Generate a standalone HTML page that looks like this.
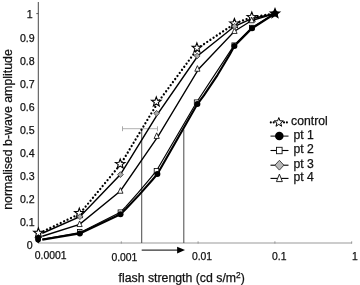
<!DOCTYPE html>
<html><head><meta charset="utf-8"><title>chart</title>
<style>html,body{margin:0;padding:0;background:#fff}svg{display:block}text{stroke:#111;stroke-width:.25px}</style></head>
<body>
<svg width="360" height="285" viewBox="0 0 360 285" font-family="'Liberation Sans', sans-serif" font-size="12" fill="#111">
<rect width="360" height="285" fill="#fff"/>
<line x1="38.3" y1="2" x2="38.3" y2="243" stroke="#333" stroke-width="0.9"/>
<line x1="38" y1="243.0" x2="352" y2="243.0" stroke="#999" stroke-width="1.2"/>
<text x="32.7" y="249.10" text-anchor="end" font-size="10.6">0</text>
<text x="34.7" y="226.10" text-anchor="end" font-size="10.6">0.1</text>
<text x="34.7" y="203.10" text-anchor="end" font-size="10.6">0.2</text>
<text x="34.7" y="180.10" text-anchor="end" font-size="10.6">0.3</text>
<text x="34.7" y="157.10" text-anchor="end" font-size="10.6">0.4</text>
<text x="34.7" y="134.10" text-anchor="end" font-size="10.6">0.5</text>
<text x="34.7" y="111.10" text-anchor="end" font-size="10.6">0.6</text>
<text x="34.7" y="88.10" text-anchor="end" font-size="10.6">0.7</text>
<text x="34.7" y="65.10" text-anchor="end" font-size="10.6">0.8</text>
<text x="34.7" y="42.10" text-anchor="end" font-size="10.6">0.9</text>
<text x="32.7" y="18.20" text-anchor="end" font-size="10.6">1</text>
<line x1="36.3" y1="13.6" x2="38.3" y2="13.6" stroke="#333" stroke-width="0.8"/>
<text x="50.7" y="259.4" text-anchor="middle" font-size="10.4">0.0001</text>
<text x="124.4" y="260.8" text-anchor="middle" font-size="10.4">0.001</text>
<text x="202" y="260.0" text-anchor="middle" font-size="10.4">0.01</text>
<text x="279.2" y="260.1" text-anchor="middle" font-size="10.4">0.1</text>
<text x="355" y="260" text-anchor="middle" font-size="10.4">1</text>
<line x1="121.3" y1="241.3" x2="121.3" y2="243.6" stroke="#888" stroke-width="0.8"/>
<line x1="198.1" y1="241.3" x2="198.1" y2="243.6" stroke="#888" stroke-width="0.8"/>
<line x1="274.9" y1="241.3" x2="274.9" y2="243.6" stroke="#888" stroke-width="0.8"/>
<line x1="351.7" y1="241.3" x2="351.7" y2="243.6" stroke="#888" stroke-width="0.8"/>
<text x="181.7" y="281.6" text-anchor="middle" font-size="12.3">flash strength (cd s/m<tspan font-size="8.4" dy="-3.6">2</tspan><tspan dy="3.6">)</tspan></text>
<text transform="translate(12.4,129.5) rotate(-90)" text-anchor="middle" font-size="12.35">normalised b-wave amplitude</text>
<line x1="141.7" y1="128.7" x2="141.7" y2="243" stroke="#505050" stroke-width="1.05"/>
<line x1="183.8" y1="129.6" x2="183.8" y2="243" stroke="#505050" stroke-width="1.05"/>
<line x1="122.5" y1="128.7" x2="157.5" y2="128.7" stroke="#a8a8a8" stroke-width="0.9"/>
<line x1="122.5" y1="126.3" x2="122.5" y2="131.2" stroke="#a0a0a0" stroke-width="0.9"/>
<line x1="157.5" y1="126.3" x2="157.5" y2="131.2" stroke="#a0a0a0" stroke-width="0.9"/>
<line x1="141.7" y1="250.1" x2="179" y2="250.1" stroke="#000" stroke-width="1.0"/>
<polygon points="177.1,246.7 185,250.1 177.1,253.5" fill="#000"/>
<polyline points="42.30,239.66 79.80,233.50 120.50,214.20 126.03,208.77 138.95,195.10 151.87,180.53 157.40,174.00 197.40,104.10 203.91,95.38 217.50,75.05 229.65,54.72 234.40,46.00 252.00,28.30 275.00,13.50" fill="none" stroke="#000" stroke-width="2.1" stroke-linejoin="round"/>
<polyline points="42.30,239.22 79.70,232.70 120.40,212.20 125.81,206.57 138.45,192.45 151.09,177.42 156.50,170.70 196.60,102.20 234.20,45.20 251.80,27.60 275.00,13.50" fill="none" stroke="#000" stroke-width="1.2"/>
<polyline points="42.30,236.25 79.60,224.30 120.40,191.00 158.20,136.20 198.70,69.00 234.50,31.20 251.70,20.50 275.00,13.50" fill="none" stroke="#000" stroke-width="1.35"/>
<polyline points="42.30,233.28 79.90,216.70 120.40,174.60 158.10,113.30 198.10,55.50 234.60,26.30 251.70,18.70 275.00,13.50" fill="none" stroke="#000" stroke-width="1.45"/>
<polyline points="43.50,231.19 79.70,213.80 120.70,164.20 158.10,102.10 198.20,47.90 234.70,23.60 252.10,17.00 275.00,13.50" fill="none" stroke="#000" stroke-width="2.3" stroke-dasharray="0.01 3.8" stroke-linecap="round"/>
<polygon points="79.30,208.10 80.53,211.40 84.06,211.55 81.30,213.75 82.24,217.15 79.30,215.20 76.36,217.15 77.30,213.75 74.54,211.55 78.07,211.40" fill="#fff" stroke="#000" stroke-width="1.1" stroke-linejoin="miter"/>
<polygon points="120.20,159.00 121.43,162.30 124.96,162.45 122.20,164.65 123.14,168.05 120.20,166.10 117.26,168.05 118.20,164.65 115.44,162.45 118.97,162.30" fill="#fff" stroke="#000" stroke-width="1.1" stroke-linejoin="miter"/>
<polygon points="156.30,96.90 157.53,100.20 161.06,100.35 158.30,102.55 159.24,105.95 156.30,104.00 153.36,105.95 154.30,102.55 151.54,100.35 155.07,100.20" fill="#fff" stroke="#000" stroke-width="1.1" stroke-linejoin="miter"/>
<polygon points="196.90,42.90 198.13,46.20 201.66,46.35 198.90,48.55 199.84,51.95 196.90,50.00 193.96,51.95 194.90,48.55 192.14,46.35 195.67,46.20" fill="#fff" stroke="#000" stroke-width="1.1" stroke-linejoin="miter"/>
<polygon points="234.40,18.50 235.63,21.80 239.16,21.95 236.40,24.15 237.34,27.55 234.40,25.60 231.46,27.55 232.40,24.15 229.64,21.95 233.17,21.80" fill="#fff" stroke="#000" stroke-width="1.1" stroke-linejoin="miter"/>
<polygon points="251.80,12.00 253.03,15.30 256.56,15.45 253.80,17.65 254.74,21.05 251.80,19.10 248.86,21.05 249.80,17.65 247.04,15.45 250.57,15.30" fill="#fff" stroke="#000" stroke-width="1.1" stroke-linejoin="miter"/>
<rect x="77.40" y="229.50" width="4.60" height="4.60" fill="#fff" stroke="#000" stroke-width="0.8"/>
<rect x="118.10" y="209.90" width="4.60" height="4.60" fill="#fff" stroke="#000" stroke-width="0.8"/>
<rect x="154.20" y="168.40" width="4.60" height="4.60" fill="#fff" stroke="#000" stroke-width="0.8"/>
<rect x="194.30" y="99.90" width="4.60" height="4.60" fill="#fff" stroke="#000" stroke-width="0.8"/>
<rect x="231.90" y="42.90" width="4.60" height="4.60" fill="#fff" stroke="#000" stroke-width="0.8"/>
<rect x="249.50" y="25.30" width="4.60" height="4.60" fill="#fff" stroke="#000" stroke-width="0.8"/>
<polygon points="77.00,226.54 79.60,220.94 82.20,226.54" fill="#fff" stroke="#000" stroke-width="0.8"/>
<polygon points="117.80,193.24 120.40,187.64 123.00,193.24" fill="#fff" stroke="#000" stroke-width="0.8"/>
<polygon points="154.10,138.44 156.70,132.84 159.30,138.44" fill="#fff" stroke="#000" stroke-width="0.8"/>
<polygon points="194.80,71.24 197.40,65.64 200.00,71.24" fill="#fff" stroke="#000" stroke-width="0.8"/>
<polygon points="231.90,33.44 234.50,27.84 237.10,33.44" fill="#fff" stroke="#000" stroke-width="0.8"/>
<polygon points="249.10,22.74 251.70,17.14 254.30,22.74" fill="#fff" stroke="#000" stroke-width="0.8"/>
<polygon points="77.00,216.70 79.90,213.80 82.80,216.70 79.90,219.60" fill="#aaa" stroke="#333" stroke-width="0.8"/>
<polygon points="117.50,174.60 120.40,171.70 123.30,174.60 120.40,177.50" fill="#aaa" stroke="#333" stroke-width="0.8"/>
<polygon points="153.70,113.30 156.60,110.40 159.50,113.30 156.60,116.20" fill="#aaa" stroke="#333" stroke-width="0.8"/>
<polygon points="194.30,55.90 197.20,53.00 200.10,55.90 197.20,58.80" fill="#aaa" stroke="#333" stroke-width="0.8"/>
<polygon points="231.70,26.30 234.60,23.40 237.50,26.30 234.60,29.20" fill="#aaa" stroke="#333" stroke-width="0.8"/>
<circle cx="79.80" cy="233.50" r="3.00" fill="#000"/>
<circle cx="120.50" cy="214.20" r="3.00" fill="#000"/>
<circle cx="157.40" cy="174.00" r="3.00" fill="#000"/>
<circle cx="197.40" cy="104.10" r="3.00" fill="#000"/>
<circle cx="234.40" cy="46.00" r="3.00" fill="#000"/>
<circle cx="252.00" cy="28.30" r="3.00" fill="#000"/>
<circle cx="275.00" cy="13.50" r="3.00" fill="#000"/>
<circle cx="38.10" cy="237.60" r="2.90" fill="#000"/>
<circle cx="38.10" cy="239.40" r="2.90" fill="#000"/>
<polygon points="35.6,240.5 40.6,240.5 38.2,243.2" fill="#000"/>
<polygon points="38.40,227.90 39.63,231.20 43.16,231.35 40.40,233.55 41.34,236.95 38.40,235.00 35.46,236.95 36.40,233.55 33.64,231.35 37.17,231.20" fill="#fff" stroke="#000" stroke-width="1.1" stroke-linejoin="miter"/>
<polygon points="275.00,8.50 276.23,11.80 279.76,11.95 277.00,14.15 277.94,17.55 275.00,15.60 272.06,17.55 273.00,14.15 270.24,11.95 273.77,11.80" fill="#000" stroke="#000" stroke-width="1.1" stroke-linejoin="miter"/>
<circle cx="270.8" cy="122.4" r="1.05" fill="#000"/>
<circle cx="273.7" cy="122.4" r="1.05" fill="#000"/>
<circle cx="284.0" cy="122.4" r="1.05" fill="#000"/>
<circle cx="286.9" cy="122.4" r="1.05" fill="#000"/>
<polygon points="278.80,117.60 279.98,120.78 283.37,120.92 280.70,123.02 281.62,126.28 278.80,124.40 275.98,126.28 276.90,123.02 274.23,120.92 277.62,120.78" fill="#fff" stroke="#000" stroke-width="1.0" stroke-linejoin="miter"/>
<polyline points="270.50,136.10 288.50,136.10" fill="none" stroke="#000" stroke-width="1.0"/>
<circle cx="279.30" cy="136.10" r="4.25" fill="#000"/>
<polyline points="270.50,150.50 288.50,150.50" fill="none" stroke="#000" stroke-width="1.1"/>
<rect x="276.5" y="147.30" width="5.6" height="6.4" fill="#fff" stroke="#111" stroke-width="0.9"/>
<polyline points="270.50,165.20 288.50,165.20" fill="none" stroke="#000" stroke-width="1.1"/>
<polygon points="274.90,165.20 279.40,160.30 283.90,165.20 279.40,170.10" fill="#b8b8b8" stroke="#333" stroke-width="0.9"/>
<polyline points="270.50,178.40 288.50,178.40" fill="none" stroke="#000" stroke-width="1.1"/>
<polygon points="276.4,181.60 279.4,174.10 282.4,181.60" fill="#fff" stroke="#111" stroke-width="0.9"/>
<text x="291.1" y="125.40" font-size="12.2">control</text>
<text x="293.5" y="139.10" font-size="12.2">pt 1</text>
<text x="293.5" y="153.20" font-size="12.2">pt 2</text>
<text x="293.5" y="167.90" font-size="12.2">pt 3</text>
<text x="293.5" y="181.40" font-size="12.2">pt 4</text>
</svg>
</body></html>
